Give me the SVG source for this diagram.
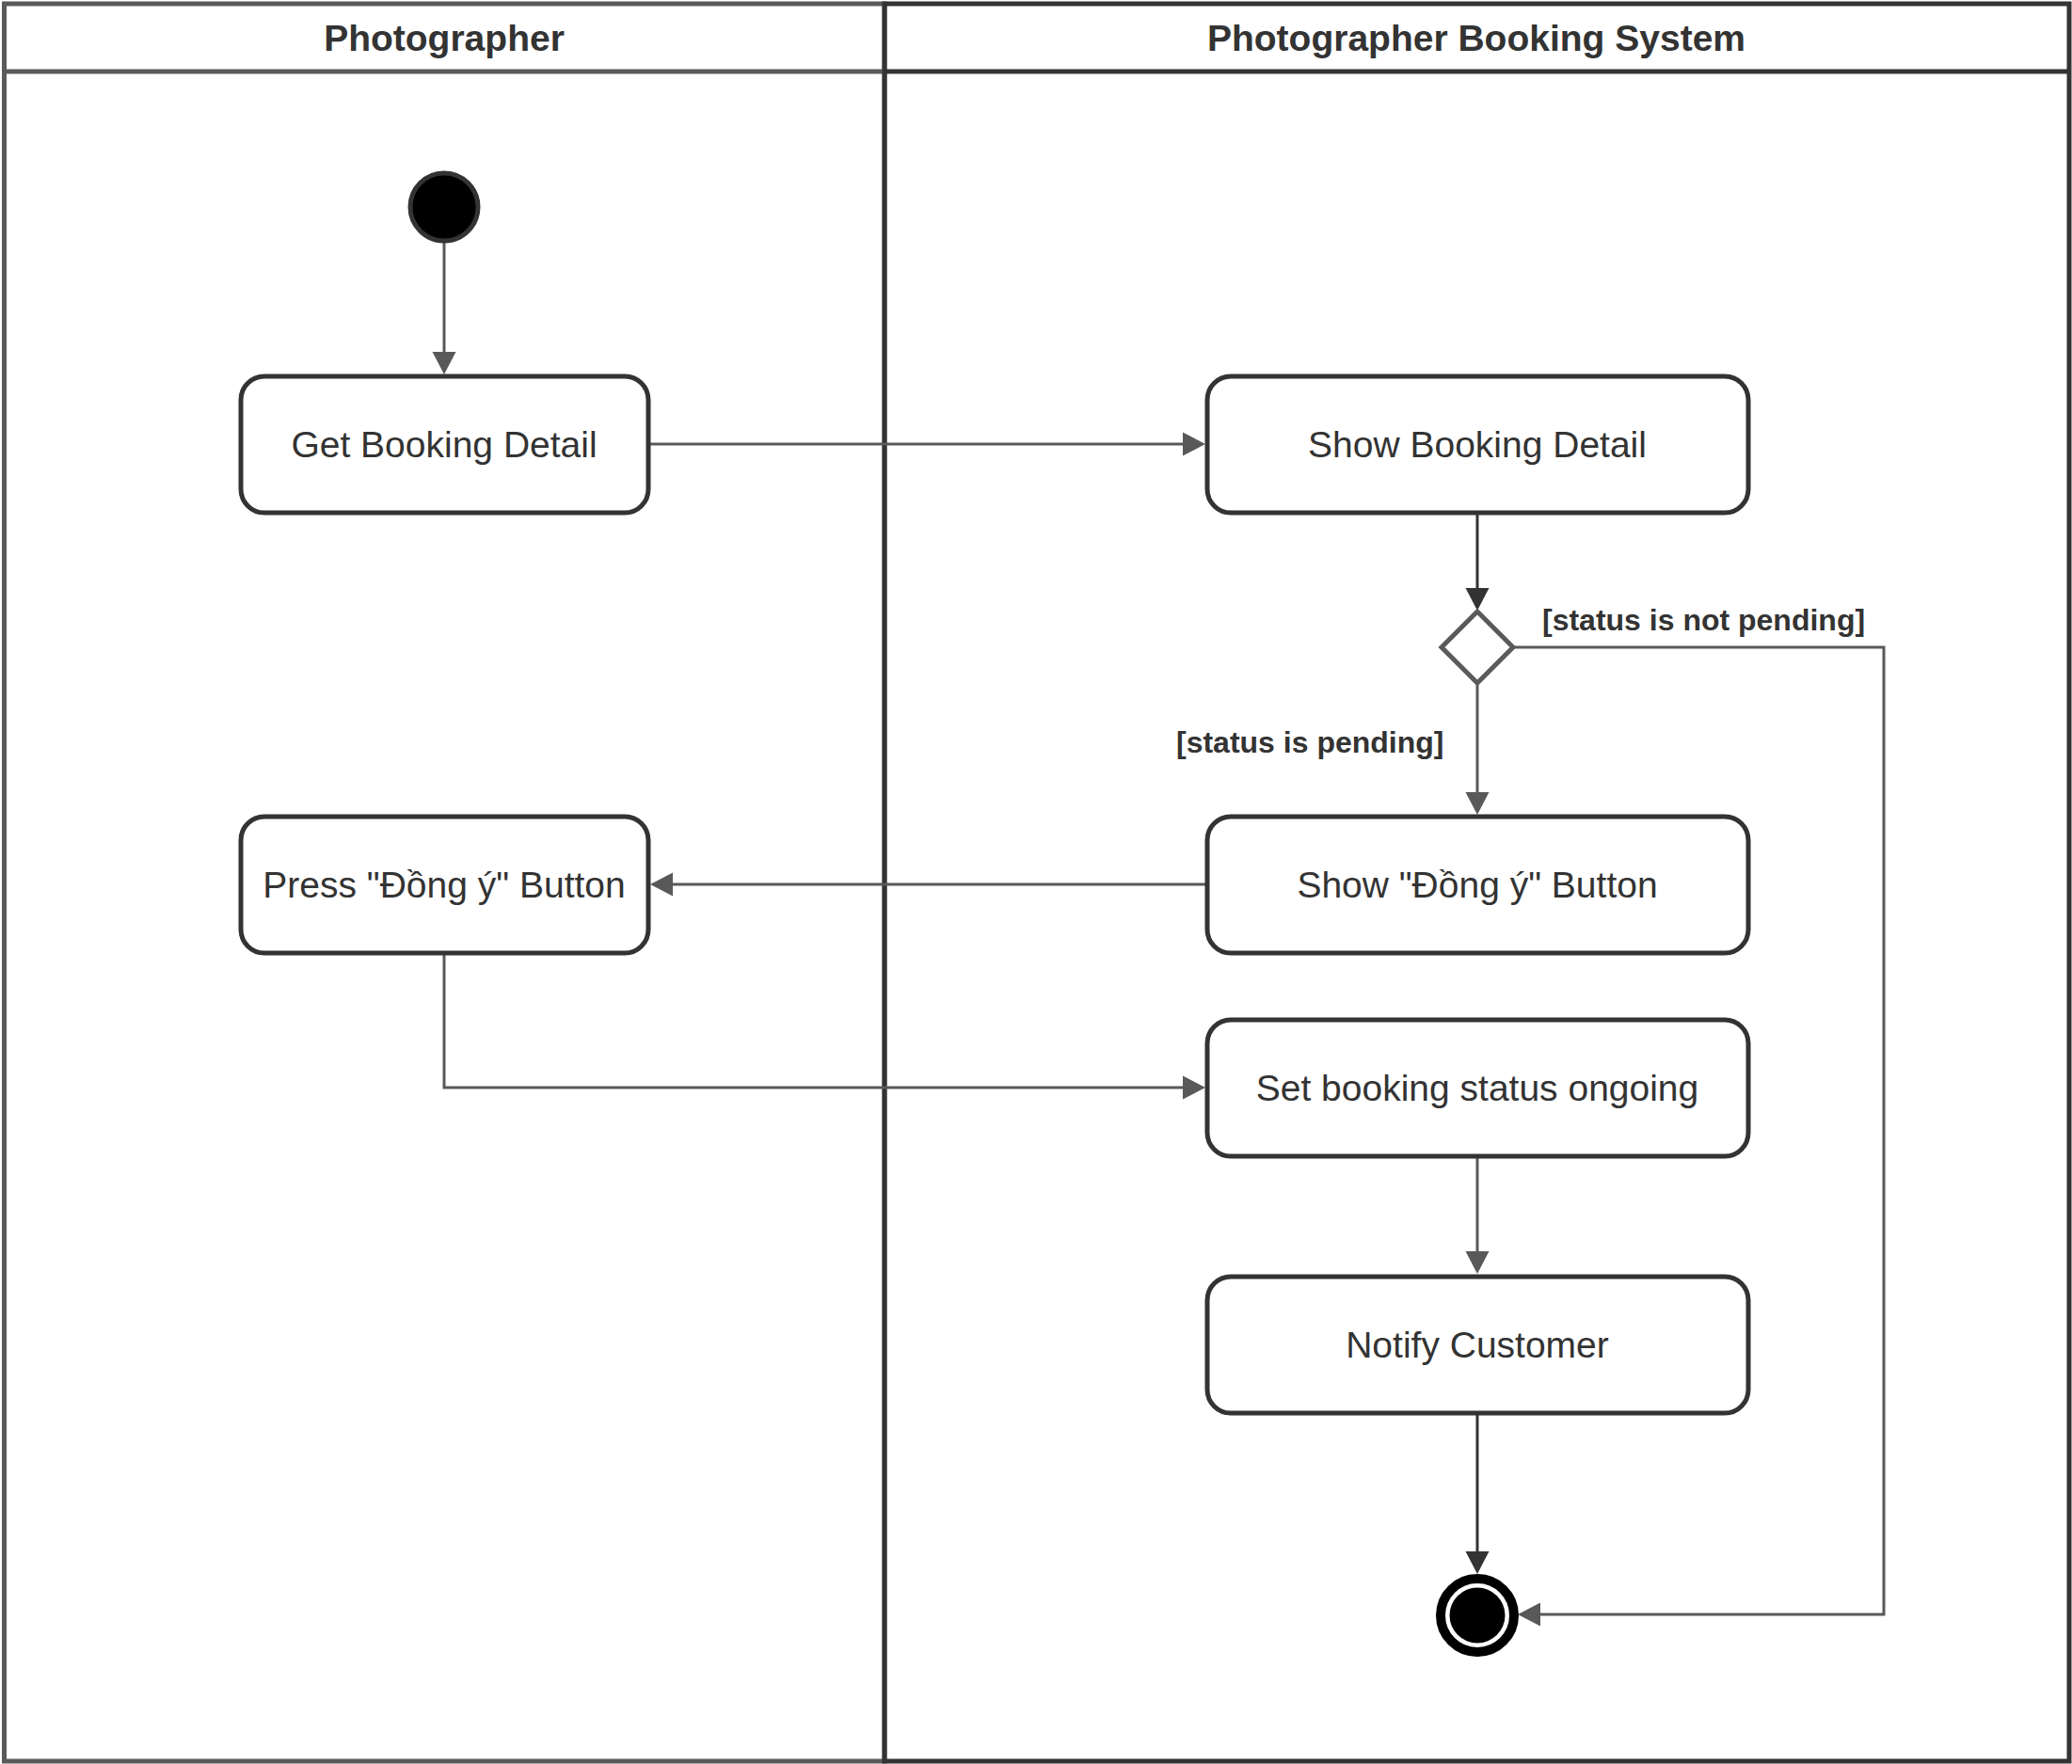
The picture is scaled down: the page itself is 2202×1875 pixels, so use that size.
<svg xmlns="http://www.w3.org/2000/svg" width="2202" height="1875" viewBox="0 0 2202 1875">
  <style>
    .lane-a { fill: #ffffff; stroke: #5a5a5a; stroke-width: 5; }
    .lane-b { fill: none; stroke: #333333; stroke-width: 5; }
    .lane-title { font-family: "Liberation Sans", Arial, sans-serif; font-size: 39px; font-weight: bold; fill: #333333; text-anchor: middle; }
    .action rect { fill: #ffffff; stroke: #333333; stroke-width: 5; }
    .action text { font-family: "Liberation Sans", Arial, sans-serif; font-size: 39px; fill: #333333; text-anchor: middle; }
    .guard { font-family: "Liberation Sans", Arial, sans-serif; font-size: 32px; font-weight: bold; fill: #333333; }
    .flow { fill: none; stroke: #595959; stroke-width: 3; }
    .flow-dark { fill: none; stroke: #333333; stroke-width: 3; }
  </style>
  <defs>
    <marker id="arrow" markerUnits="userSpaceOnUse" markerWidth="26" markerHeight="26" refX="1" refY="12.5" orient="auto" overflow="visible">
      <path d="M0,0 L24,12.5 L0,25 z" fill="#595959"/>
    </marker>
    <marker id="arrow-dark" markerUnits="userSpaceOnUse" markerWidth="26" markerHeight="26" refX="1" refY="12.5" orient="auto" overflow="visible">
      <path d="M0,0 L24,12.5 L0,25 z" fill="#333333"/>
    </marker>
  </defs>

  <rect width="2202" height="1875" fill="#ffffff"/>

  <!-- swimlanes -->
  <g id="lane-photographer">
    <rect class="lane-a" x="4.5" y="4" width="935.5" height="1868"/>
    <line class="lane-a" x1="4.5" y1="76" x2="940" y2="76"/>
    <text class="lane-title" x="472" y="54">Photographer</text>
  </g>
  <g id="lane-system">
    <rect class="lane-b" x="940" y="4" width="1259" height="1868"/>
    <line class="lane-b" x1="940" y1="76" x2="2199" y2="76"/>
    <text class="lane-title" x="1569" y="54">Photographer Booking System</text>
  </g>

  <!-- connectors -->
  <g id="connectors">
    <line class="flow" x1="472" y1="258" x2="472" y2="375" marker-end="url(#arrow)"/>
    <line class="flow" x1="690" y1="472" x2="1258" y2="472" marker-end="url(#arrow)"/>
    <line class="flow-dark" x1="1570" y1="545" x2="1570" y2="626" marker-end="url(#arrow-dark)"/>
    <line class="flow" x1="1570" y1="727" x2="1570" y2="843" marker-end="url(#arrow)"/>
    <line class="flow" x1="1282" y1="940" x2="714" y2="940" marker-end="url(#arrow)"/>
    <polyline class="flow" points="472,1013 472,1156 1258,1156" marker-end="url(#arrow)"/>
    <line class="flow" x1="1570" y1="1230" x2="1570" y2="1331" marker-end="url(#arrow)"/>
    <line class="flow-dark" x1="1570" y1="1502" x2="1570" y2="1650" marker-end="url(#arrow-dark)"/>
    <polyline class="flow" points="1608,688 2002,688 2002,1716 1636,1716" marker-end="url(#arrow)"/>
    <text class="guard" x="1639" y="670">[status is not pending]</text>
    <text class="guard" x="1250" y="800">[status is pending]</text>
  </g>

  <!-- nodes -->
  <g id="start">
    <circle cx="472" cy="220" r="36" fill="#000000" stroke="#333333" stroke-width="5"/>
  </g>
  <g id="get-booking-detail" class="action">
    <rect x="256" y="400" width="433" height="145" rx="25"/>
    <text x="472" y="486">Get Booking Detail</text>
  </g>
  <g id="show-booking-detail" class="action">
    <rect x="1283" y="400" width="575" height="145" rx="25"/>
    <text x="1570" y="486">Show Booking Detail</text>
  </g>
  <g id="status-decision">
    <polygon points="1570,650 1608,688 1570,726 1532,688" fill="#ffffff" stroke="#5a5a5a" stroke-width="5"/>
  </g>
  <g id="press-button" class="action">
    <rect x="256" y="868" width="433" height="145" rx="25"/>
    <text x="472" y="954">Press "Đồng ý" Button</text>
  </g>
  <g id="show-button" class="action">
    <rect x="1283" y="868" width="575" height="145" rx="25"/>
    <text x="1570" y="954">Show "Đồng ý" Button</text>
  </g>
  <g id="set-status" class="action">
    <rect x="1283" y="1084" width="575" height="145" rx="25"/>
    <text x="1570" y="1170">Set booking status ongoing</text>
  </g>
  <g id="notify-customer" class="action">
    <rect x="1283" y="1357" width="575" height="145" rx="25"/>
    <text x="1570" y="1443">Notify Customer</text>
  </g>
  <g id="end">
    <circle cx="1570" cy="1717" r="39" fill="#ffffff" stroke="#000000" stroke-width="10"/>
    <circle cx="1570" cy="1717" r="29.5" fill="#000000"/>
  </g>
</svg>
